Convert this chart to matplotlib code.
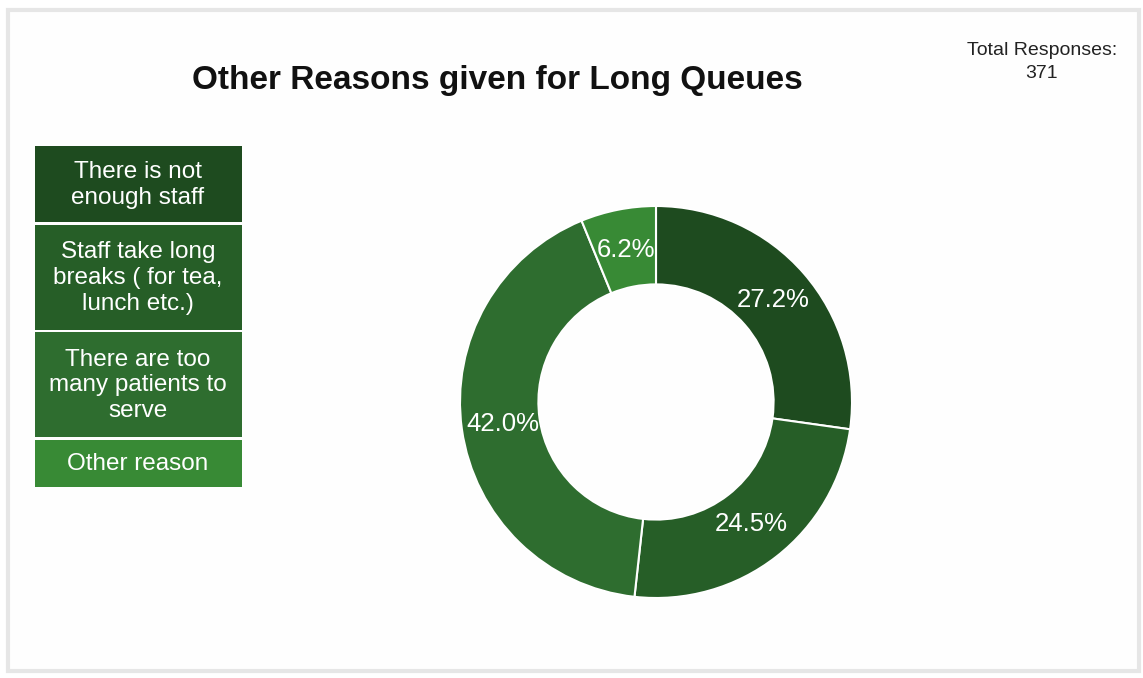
import matplotlib.pyplot as plt
from matplotlib.patches import Rectangle

plt.rcParams['font.family'] = ['Liberation Sans', 'DejaVu Sans']

# dane
kategorie = ['There is not\nenough staff',
             'Staff take long\nbreaks ( for tea,\nlunch etc.)',
             'There are too\nmany patients to\nserve',
             'Other reason']
liczby = [101, 91, 156, 23]  # 371 odpowiedzi
kolory = ['#1e4b1f', '#265e27', '#2e6d2f', '#388a35']
tytul = 'Other Reasons given for Long Queues'
razem = 'Total Responses:\n371'

W, H = 1143, 678
fig = plt.figure(figsize=(W / 100, H / 100), dpi=100)
fig.patch.set_facecolor('white')

# tlo w pikselach
bg = fig.add_axes([0, 0, 1, 1])
bg.set_xlim(0, W)
bg.set_ylim(H, 0)
bg.axis('off')
bg.add_patch(Rectangle((8, 10), W - 12, H - 17, facecolor='#fefefe',
                       edgecolor='#e6e6e6', linewidth=3))

bg.text(497, 80, tytul, ha='center', va='center', fontsize=24,
        fontweight='bold', color='#111111')
bg.text(1042, 62, razem, ha='center', va='center', fontsize=14,
        color='#222222', linespacing=1.4)

# legenda - prostokaty
wys = [76, 105, 105, 47]
y = 146
for lab, kol, h in zip(kategorie, kolory, wys):
    bg.add_patch(Rectangle((35, y), 207, h, facecolor=kol, edgecolor='none'))
    bg.text(138, y + h / 2 + 1, lab, ha='center', va='center', fontsize=17.5,
            color='white', linespacing=1.22)
    y += h + 2.5

# donut
R = 196
cx, cy = 656, 402
ax = fig.add_axes([(cx - 200) / W, (H - cy - 200) / H, 400 / W, 400 / H])
wedges, teksty, auto = ax.pie(liczby, colors=kolory, startangle=90,
                              counterclock=False, autopct='%1.1f%%',
                              pctdistance=0.79, radius=1,
                              wedgeprops=dict(width=0.4, edgecolor='white',
                                              linewidth=1.5))
for t in auto:
    t.set_color('white')
    t.set_fontsize(18.5)
ax.set_xlim(-200 / R, 200 / R)
ax.set_ylim(-200 / R, 200 / R)
ax.set_aspect('equal')

plt.savefig('out.png', dpi=100)
